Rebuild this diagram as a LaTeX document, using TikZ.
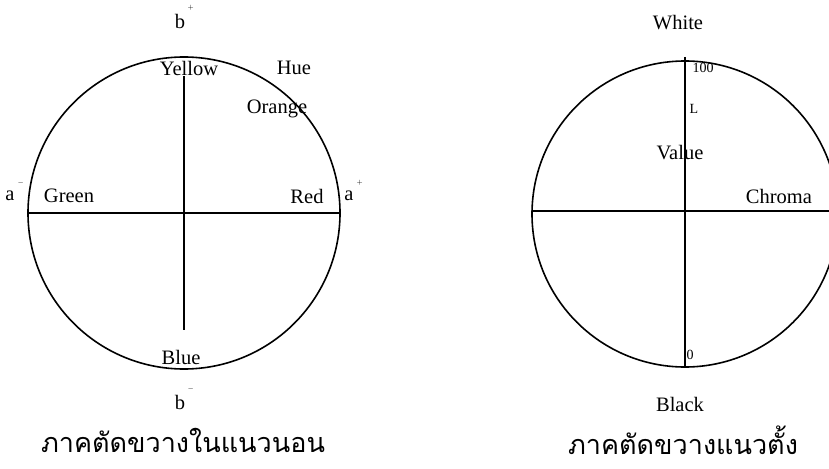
\documentclass[tikz,border=0pt]{standalone}
\usepackage{fontspec}
\setmainfont{Liberation Serif}
\newfontfamily\thaifont[Script=Thai]{Loma}
\usetikzlibrary{positioning}

\begin{document}
\begin{tikzpicture}[x=1pt, y=-1pt,
  axis/.style={line width=1.6pt},
  lbl/.style={font=\fontsize{20.5}{24}\selectfont, inner sep=0pt},
  smalllbl/.style={font=\fontsize{14}{16}\selectfont, inner sep=0pt},
  suplbl/.style={font=\fontsize{10}{12}\selectfont, inner sep=0pt},
  thaicaption/.style={font=\thaifont\fontsize{27}{32}\selectfont, inner sep=0pt},
]
  \useasboundingbox (0,0) rectangle (829,468);
  \clip (0,0) rectangle (829,468);

  % horizontal cross-section
  \coordinate (hc) at (184,213);
  \draw[axis] (hc) circle[radius=156pt];
  \coordinate (hw) at (28,213);
  \coordinate (he) at (340,213);
  \coordinate (hn) at (184,76);
  \coordinate (hs) at (184,330);
  \draw[axis] (hw) -- (he);
  \draw[axis] (hn) -- (hs);

  \node[lbl] (bplus) at (180,21) {b};
  \node[suplbl] (bplussup) at (191,9) {$^{+}$};
  \node[lbl] (yellow) at (189,68) {Yellow};
  \node[lbl] (hue) at (294,68) {Hue};
  \node[lbl] (orange) at (277,109) {Orange};
  \node[lbl] (aminus) at (10,196) {a};
  \node[suplbl] (aminussup) at (21,184) {$^{-}$};
  \node[lbl] (green) at (69,196) {Green};
  \node[lbl] (red) at (307,196) {Red};
  \node[lbl] (aplus) at (349,196) {a};
  \node[suplbl] (aplussup) at (360,184) {$^{+}$};
  \node[lbl] (blue) at (181,357) {Blue};
  \node[lbl] (bminus) at (180,402) {b};
  \node[suplbl] (bminussup) at (191,390) {$^{-}$};
  \node[thaicaption] (hcap) at (183,440) {ภาคตัดขวางในแนวนอน};

  % vertical cross-section
  \coordinate (vc) at (685,214);
  \draw[axis] (vc) circle[radius=153pt];
  \coordinate (vw) at (532,211);
  \coordinate (ve) at (838,211);
  \coordinate (vn) at (685,57);
  \coordinate (vs) at (685,368);
  \draw[axis] (vw) -- (ve);
  \draw[axis] (vn) -- (vs);

  \node[lbl] (white) at (678,23) {White};
  \node[smalllbl] (hundred) at (703,68) {100};
  \node[smalllbl] (lval) at (694,109) {L};
  \node[lbl] (value) at (680,153) {Value};
  \node[lbl] (chroma) at (779,196) {Chroma};
  \node[smalllbl] (zero) at (690,355) {0};
  \node[lbl] (black) at (680,404) {Black};
  \node[thaicaption] (vcap) at (683,440) {ภาคตัดขวางแนวตั้ง};
\end{tikzpicture}
\end{document}
